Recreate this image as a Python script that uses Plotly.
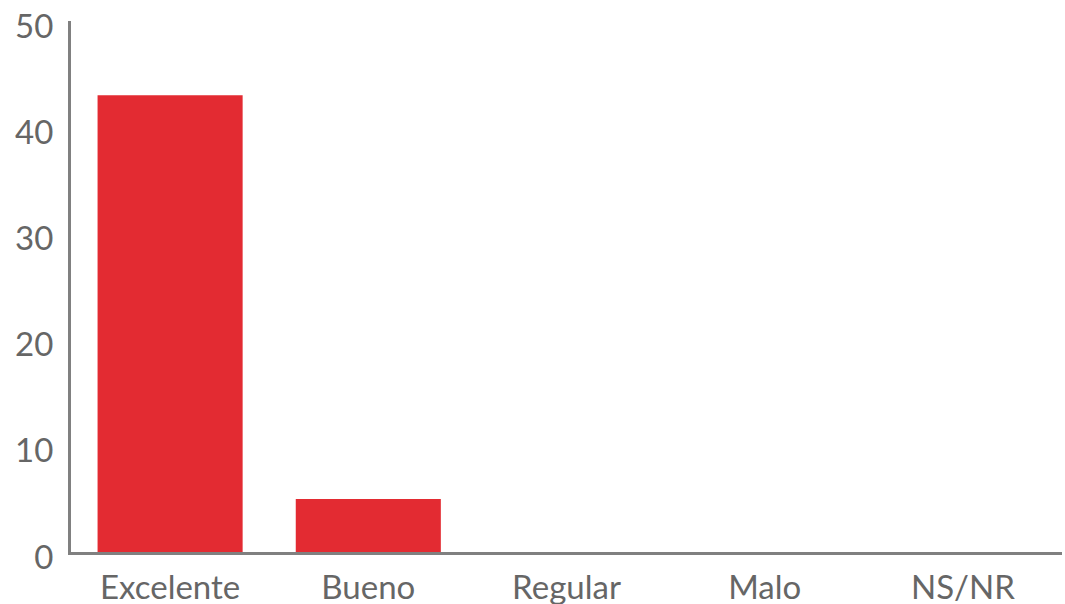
import plotly.graph_objects as go

categories = ["Excelente", "Bueno", "Regular", "Malo", "NS/NR"]
values = [43, 5, 0, 0, 0]
y_ticks = [0, 10, 20, 30, 40, 50]

fig = go.Figure(
    go.Bar(
        x=categories,
        y=values,
        marker=dict(color="#E32B32", line=dict(width=0)),
    )
)

fig.update_layout(
    width=1065,
    height=604,
    margin=dict(l=71, r=3, t=21, b=52),
    plot_bgcolor="white",
    paper_bgcolor="white",
    bargap=0.268,
    showlegend=False,
    font=dict(family="Lato, sans-serif", size=33, color="#666666"),
)

fig.update_xaxes(
    automargin=False,
    showline=True,
    linecolor="#808080",
    linewidth=3,
    showgrid=False,
    ticks="",
    ticklabelstandoff=4,
    ticklabeloverflow="allow",
)
fig.update_yaxes(
    automargin=False,
    range=[0, 50],
    tickvals=y_ticks,
    showline=True,
    linecolor="#808080",
    linewidth=3,
    showgrid=False,
    zeroline=False,
    ticks="",
    ticklabelstandoff=8,
    ticklabelshift=5,
    ticklabeloverflow="allow",
)

# page body has a default 8px margin; remove it so the figure fills the window
fig.write_html(
    "out.html",
    config={"displayModeBar": False},
    post_script="document.body.style.margin='0';document.body.style.overflow='hidden';",
)
